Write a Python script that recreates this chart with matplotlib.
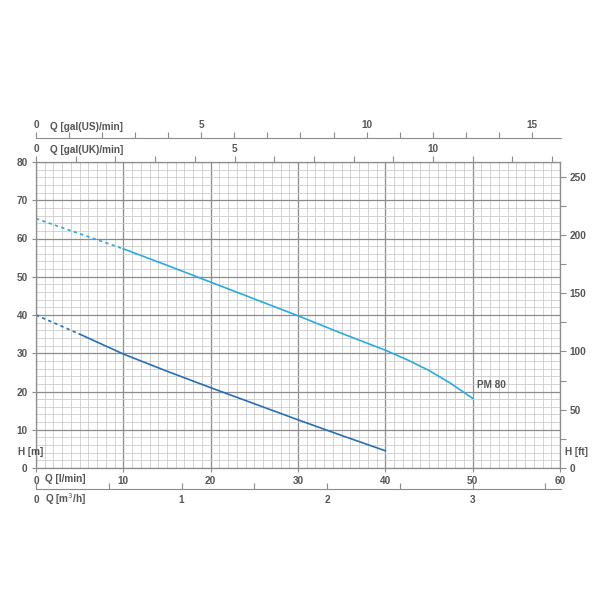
import numpy as np
from matplotlib import pyplot as plt

# curve data (Q in l/min, H in m)
pm80_q_dot = [0, 10]
pm80_h_dot = [65.2, 57.3]
pm80_q = [10, 15, 20, 25, 30, 32.5, 35, 37.5, 40, 42.5, 45, 47.5, 50]
pm80_h = [57.3, 53.0, 48.6, 44.2, 39.8, 37.5, 35.2, 33.0, 30.8, 28.3, 25.5, 22.1, 18.2]

low_q_dot = [0, 5]
low_h_dot = [40.0, 35.0]
low_q = [5, 10, 15, 20, 25, 30, 35, 40]
low_h = [35.0, 29.8, 25.3, 21.0, 16.8, 12.6, 8.5, 4.5]

h_ticks = [0, 10, 20, 30, 40, 50, 60, 70, 80]
q_ticks = [0, 10, 20, 30, 40, 50, 60]
ft_labels = [0, 50, 100, 150, 200, 250]

txt = dict(fontsize=7.2, fontweight="bold", color="#555555", family="Liberation Sans")
light = "#29abe2"
dark = "#2470b8"
grid_minor = "#cccccc"
grid_major = "#8c8c8c"

fig = plt.figure(figsize=(6, 6), dpi=100)
W, H = 600.0, 600.0
x0, x1 = 36, 560
y_top, y_bot = 162, 468
ax = fig.add_axes([x0 / W, 1 - y_bot / H, (x1 - x0) / W, (y_bot - y_top) / H])
ax.set_xlim(0, 60)
ax.set_ylim(0, 80)

# grid: fine every 1 l/min and 2 m, heavy every 10
for q in range(0, 61):
    ax.axvline(q, color=grid_major if q % 10 == 0 else grid_minor,
               lw=0.9 if q % 10 == 0 else 0.6, zorder=0)
for h in range(0, 81, 2):
    ax.axhline(h, color=grid_major if h % 10 == 0 else grid_minor,
               lw=0.9 if h % 10 == 0 else 0.6, zorder=0)

for s in ax.spines.values():
    s.set_color(grid_major)
    s.set_linewidth(0.9)

ax.plot(pm80_q_dot, pm80_h_dot, color=light, lw=1.2, ls=(0, (2, 2)))
ax.plot(pm80_q, pm80_h, color=light, lw=1.2)
ax.plot(low_q_dot, low_h_dot, color=dark, lw=1.2, ls=(0, (2, 2)))
ax.plot(low_q, low_h, color=dark, lw=1.2)
ax.text(50.5, 20.3, "PM 80", ha="left", va="bottom", **txt)

ax.set_yticks(h_ticks)
ax.set_yticklabels([str(v) for v in h_ticks], **txt)
ax.set_xticks(q_ticks)
ax.set_xticklabels([str(v) for v in q_ticks], **txt)
ax.tick_params(axis="both", length=3, width=0.8, color=grid_major, pad=3)

# right axis in feet
axr = ax.twinx()
axr.set_ylim(0, 80 * 3.28084)
axr.set_yticks(np.arange(0, 251, 25))
axr.set_yticklabels([str(v) if v in ft_labels else "" for v in range(0, 251, 25)], **txt)
axr.tick_params(axis="y", length=4, width=0.8, color=grid_major, pad=3)
for s in axr.spines.values():
    s.set_visible(False)

# top UK gallons axis on plot spine
axuk = ax.twiny()
axuk.set_xlim(0, 60 / 4.54609)
axuk.set_xticks(np.arange(0, 14, 1))
axuk.set_xticklabels([str(v) if v % 5 == 0 else "" for v in range(0, 14)], **txt)
axuk.tick_params(axis="x", length=4, width=0.8, color=grid_major, pad=2)
for s in axuk.spines.values():
    s.set_visible(False)

# US gallons axis line above
y_us = 138
axus = fig.add_axes([x0 / W, 1 - y_us / H, (561 - x0) / W, 0.0001])
axus.set_xlim(0, (561 - x0) / (x1 - x0) * 60 / 3.78541)
axus.set_yticks([])
axus.xaxis.tick_top()
axus.set_xticks(np.arange(0, 16, 1))
axus.set_xticklabels([str(v) if v % 5 == 0 else "" for v in range(0, 16)], **txt)
axus.tick_params(axis="x", direction="out", length=4, width=0.8, color=grid_major, pad=2)
for k in ["left", "right", "bottom"]:
    axus.spines[k].set_visible(False)
axus.spines["top"].set_color(grid_major)
axus.patch.set_visible(False)

# m3/h axis line below
y_m3 = 489
axm3 = fig.add_axes([x0 / W, 1 - y_m3 / H, (561 - x0) / W, 0.0001])
axm3.set_xlim(0, (561 - x0) / (x1 - x0) * 60 * 0.06)
axm3.set_yticks([])
m3_ticks = np.arange(0, 3.6, 0.5)
axm3.set_xticks(m3_ticks)
axm3.set_xticklabels([str(int(v)) if v == int(v) else "" for v in m3_ticks], **txt)
axm3.tick_params(axis="x", direction="in", length=4, width=0.8, color=grid_major, pad=4)
for k in ["left", "right", "top"]:
    axm3.spines[k].set_visible(False)
axm3.spines["bottom"].set_color(grid_major)
axm3.patch.set_visible(False)

# axis names
fig.text(18 / W, 1 - 452 / H, "H [m]", ha="left", va="center", **txt)
fig.text(565 / W, 1 - 452 / H, "H [ft]", ha="left", va="center", **txt)
fig.text(45 / W, 1 - 479 / H, "Q [l/min]", ha="left", va="center", **txt)
fig.text(45 / W, 1 - 499 / H, "Q [m$^3$/h]", ha="left", va="center", **txt)
fig.text(50 / W, 1 - 127 / H, "Q [gal(US)/min]", ha="left", va="center", **txt)
fig.text(50 / W, 1 - 150 / H, "Q [gal(UK)/min]", ha="left", va="center", **txt)

fig.savefig("out.png", dpi=100)
